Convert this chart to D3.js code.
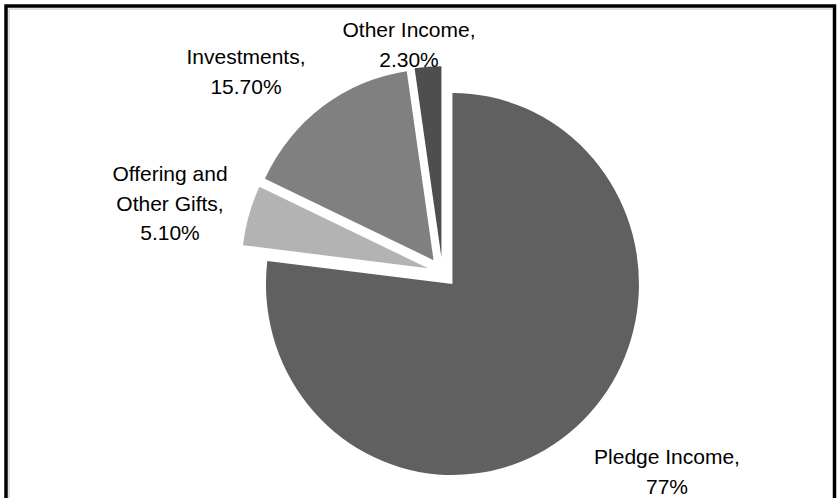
<!DOCTYPE html>
<html>
<head>
<meta charset="utf-8">
<script src="https://cdn.jsdelivr.net/npm/d3@7"></script>
<style>
  html, body { margin: 0; padding: 0; background: #fff; }
  svg { display: block; }
  text { font-family: "Liberation Sans Narrow", "Liberation Sans", "DejaVu Sans Condensed", sans-serif; fill: #000; }
</style>
</head>
<body>
<svg id="chart" width="840" height="498"></svg>
<script>
// ---- data ----
const categories = ["Pledge Income", "Offering and Other Gifts", "Investments", "Other Income"];
const values = [77, 5.1, 15.7, 2.3];
const valueLabels = ["77%", "5.10%", "15.70%", "2.30%"];
const labelLines = [
  ["Pledge Income,"],
  ["Offering and", "Other Gifts,"],
  ["Investments,"],
  ["Other Income,"]
];
const colors = ["#606060", "#b3b3b3", "#808080", "#4e4e4e"];

// ---- layout ----
const W = 840, H = 498;
const cx = 442.5, cy = 272.5;
const rx = 186.5, ry = 191;
const sy = ry / rx;
const explode = 15;
// label centers (first line) relative to pie center
const labelPos = [
  { x: 667 - cx, y: 457 - cy },
  { x: 170 - cx, y: 174 - cy },
  { x: 246 - cx, y: 57 - cy },
  { x: 409 - cx, y: 30 - cy }
];
const lineH = 29.5;

const svg = d3.select("#chart");

// frame
svg.append("path")
  .attr("d", `M6,${H + 5} V6 H834.5 V${H + 5}`)
  .attr("fill", "none").attr("stroke", "#000").attr("stroke-width", 3.5);
svg.append("path")
  .attr("d", `M9,${H + 5} V9 H832`)
  .attr("fill", "none").attr("stroke", "#bdbdbd").attr("stroke-width", 1);

const pie = d3.pie().sort(null).value(d => d)(values);
const arc = d3.arc().innerRadius(0).outerRadius(rx);

const slices = svg.append("g");
pie.forEach((p, i) => {
  const mid = (p.startAngle + p.endAngle) / 2;
  const tx = cx + explode * Math.sin(mid);
  const ty = cy - explode * Math.cos(mid) * sy;
  slices.append("path")
    .attr("transform", `translate(${tx},${ty}) scale(1,${sy})`)
    .attr("d", arc(p))
    .attr("fill", colors[i]);
});

const labels = svg.append("g");
categories.forEach((c, i) => {
  const lines = labelLines[i].concat([valueLabels[i]]);
  const t = labels.append("text")
    .attr("text-anchor", "middle")
    .attr("font-size", 21)
    .attr("x", cx + labelPos[i].x)
    .attr("y", cy + labelPos[i].y);
  lines.forEach((ln, j) => {
    t.append("tspan")
      .attr("x", cx + labelPos[i].x)
      .attr("y", cy + labelPos[i].y + j * lineH)
      .attr("dy", "0.35em")
      .text(ln);
  });
});
</script>
</body>
</html>
